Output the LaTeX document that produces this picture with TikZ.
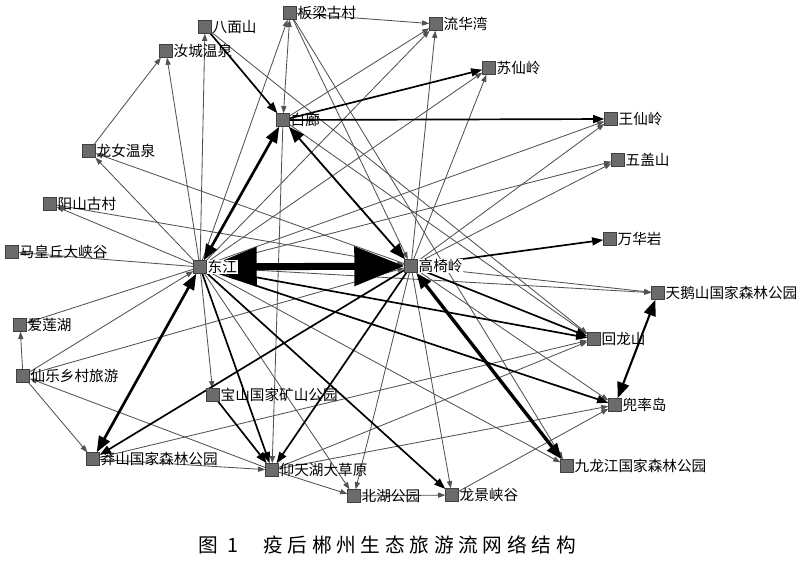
\documentclass[tikz,border=0pt]{standalone}
\usepackage{fontspec}
\newfontfamily\cjk{Noto Sans CJK SC}
\usetikzlibrary{arrows.meta,backgrounds}

\begin{document}
\begin{tikzpicture}[x=0.025cm,y=-0.025cm,
  spot/.style={rectangle,draw=black!75,fill=black!58,minimum size=0.32cm,inner sep=0pt,label distance=0.5pt},
  lbl/.style={font=\cjk\fontsize{10.4}{12}\selectfont,inner sep=0.5pt},
  lblw/.style={lbl,fill=white},
  weak/.style={-{Triangle[length=0.18cm,width=0.13cm]},draw=black!68,line width=0.6pt},
  weakboth/.style={weak,{Triangle[length=0.18cm,width=0.13cm]}-{Triangle[length=0.18cm,width=0.13cm]}},
  mid/.style={-{Triangle[length=0.28cm,width=0.2cm]},line width=1.2pt},
  strong/.style={{Triangle[length=0.4cm,width=0.3cm]}-{Triangle[length=0.4cm,width=0.3cm]},line width=1.9pt},
  mainflow/.style={{Triangle[length=1.25cm,width=0.95cm]}-{Triangle[length=1.25cm,width=0.95cm]},line width=5pt},
  captext/.style={font=\cjk\fontsize{14}{16}\selectfont\addfontfeature{LetterSpace=24},inner sep=0pt,anchor=west}]
  \useasboundingbox (0,0) rectangle (800,560);

  \node[spot,label={[lbl]right:八面山}] (bms) at (205,27) {};
  \node[spot,label={[lbl]right:板梁古村}] (blgc) at (290,13) {};
  \node[spot,label={[lbl]right:汝城温泉}] (rc) at (166,51) {};
  \node[spot,label={[lbl]right:流华湾}] (lhw) at (436,24) {};
  \node[spot,label={[lbl]right:苏仙岭}] (sx) at (489,68) {};
  \node[spot,label={[lbl]right:白廊}] (bl) at (283,120) {};
  \node[spot,label={[lbl]right:王仙岭}] (wx) at (611,119) {};
  \node[spot,label={[lbl]right:龙女温泉}] (ln) at (89,151) {};
  \node[spot,label={[lbl]right:五盖山}] (wg) at (618,160) {};
  \node[spot,label={[lbl]right:阳山古村}] (ys) at (50,204) {};
  \node[spot,label={[lbl]right:万华岩}] (why) at (610,239) {};
  \node[spot,label={[lbl]right:马皇丘大峡谷}] (mhq) at (12,252) {};
  \node[spot,label={[lblw]right:东江}] (dj) at (200,267) {};
  \node[spot,label={[lblw]right:高椅岭}] (gyl) at (411,266) {};
  \node[spot,label={[lbl]right:天鹅山国家森林公园}] (te) at (658,293) {};
  \node[spot,label={[lbl]right:爱莲湖}] (al) at (20,325) {};
  \node[spot,label={[lbl]right:回龙山}] (hls) at (594,339) {};
  \node[spot,label={[lbl]right:仙乐乡村旅游}] (xl) at (23,376) {};
  \node[spot,label={[lbl]right:宝山国家矿山公园}] (bs) at (213,395) {};
  \node[spot,label={[lbl]right:兜率岛}] (dsd) at (615,405) {};
  \node[spot,label={[lbl]right:莽山国家森林公园}] (ms) at (93,459) {};
  \node[spot,label={[lbl]right:九龙江国家森林公园}] (jlj) at (567,466) {};
  \node[spot,label={[lbl]right:仰天湖大草原}] (yth) at (272,470) {};
  \node[spot,label={[lbl]right:北湖公园}] (bh) at (354,496) {};
  \node[spot,label={[lbl]right:龙景峡谷}] (lj) at (452,495) {};

  \node[captext] (capnum) at (198,545) {图 1};
  \node[captext] (captitle) at (263,545) {疫后郴州生态旅游流网络结构};

  \begin{scope}[on background layer]
    \foreach \a/\b in {dj/rc,dj/bms,dj/blgc,dj/ln,dj/ys,dj/mhq,dj/al,xl/dj,dj/bs,dj/bh,
      dj/jlj,dj/te,dj/lhw,dj/sx,dj/wx,dj/wg,ln/rc,gyl/ln,ys/gyl,xl/al,xl/ms,xl/gyl,
      yth/xl,ms/yth,ms/hls,yth/hls,yth/dsd,lj/dsd,bh/lj,yth/bh,gyl/bh,gyl/lj,bl/yth,
      blgc/lhw,bl/lhw,gyl/lhw,gyl/sx,gyl/wx,gyl/wg,gyl/te,gyl/dsd,blgc/gyl,blgc/jlj,
      bms/hls,bl/hls}
      \draw[weak] (\a) -- (\b);
    \draw[weakboth] (blgc) -- (bl);
    \foreach \a/\b in {bl/sx,bl/wx,gyl/why,gyl/hls,dj/hls,dj/dsd,dj/yth,dj/lj,
      gyl/yth,gyl/ms,bs/yth,bms/bl}
      \draw[mid] (\a) -- (\b);
    \draw[strong] (dj) -- (bl);
    \draw[strong] (dj) -- (ms);
    \draw[strong,line width=2.4pt] (gyl) -- (jlj);
    \draw[strong,line width=1.5pt] (te) -- (dsd);
    \draw[strong,line width=1.3pt] (gyl) -- (bl);
    \draw[mainflow] (dj) -- (gyl);
  \end{scope}
\end{tikzpicture}
\end{document}
